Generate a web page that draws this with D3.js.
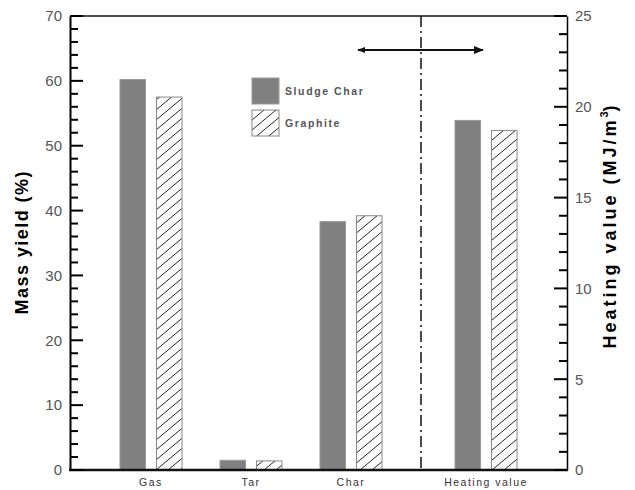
<!DOCTYPE html>
<html>
<head>
<meta charset="utf-8">
<script src="https://cdn.jsdelivr.net/npm/d3@7"></script>
<style>
  body { margin: 0; background: #fff; }
  svg { display: block; font-family: 'Liberation Sans', Arial, sans-serif; }
</style>
</head>
<body>
<div id="chart"></div>
<script>
const products = ['Gas', 'Tar', 'Char']
const heatingLabel = ['Heating value']
const seriesNames = ['Sludge Char', 'Graphite']
const sludgeYield = [60.2, 1.5, 38.3]
const graphiteYield = [57.5, 1.4, 39.2]
const heatingValue = [19.25, 18.7]
const leftTicks = [0, 10, 20, 30, 40, 50, 60, 70]
const rightTicks = [0, 5, 10, 15, 20, 25]

const width = 635
const height = 490
const plot = { left: 70, right: 567, top: 16, bottom: 470 }
const splitX = 421

const svg = d3.select('#chart').append('svg')
  .attr('width', width)
  .attr('height', height)

// hatch pattern for graphite
const defs = svg.append('defs')
defs.append('pattern')
  .attr('id', 'hatch')
  .attr('patternUnits', 'userSpaceOnUse')
  .attr('width', 12)
  .attr('height', 10)
  .append('path')
  .attr('d', 'M0,10 L12,0 M-3,2.5 L3,-2.5 M9,12.5 L15,7.5')
  .attr('stroke', '#222')
  .attr('stroke-width', 1)

defs.append('marker')
  .attr('id', 'arrowR')
  .attr('viewBox', '0 0 10 10')
  .attr('refX', 9).attr('refY', 5)
  .attr('markerWidth', 5).attr('markerHeight', 5)
  .attr('orient', 'auto')
  .append('path').attr('d', 'M0,1 L10,5 L0,9 Z').attr('fill', '#111')
defs.append('marker')
  .attr('id', 'arrowL')
  .attr('viewBox', '0 0 10 10')
  .attr('refX', 1).attr('refY', 5)
  .attr('markerWidth', 4).attr('markerHeight', 4)
  .attr('orient', 'auto')
  .append('path').attr('d', 'M10,1 L0,5 L10,9 Z').attr('fill', '#111')

// scales
const yLeft = d3.scaleLinear().domain([0, 70]).range([plot.bottom, plot.top])
const yRight = d3.scaleLinear().domain([0, 25]).range([plot.bottom, plot.top])
const xLeft = d3.scaleBand().domain(products).range([101, 401])
const xRight = d3.scaleBand().domain(heatingLabel).range([436, 536])
const xSeries = d3.scaleBand().domain(seriesNames).range([0, 62]).paddingInner(0.3)

const barStyle = (sel, name) => sel
  .attr('fill', name === 'Graphite' ? 'url(#hatch)' : '#808080')
  .attr('stroke', name === 'Graphite' ? '#888' : '#9a9a9a')
  .attr('stroke-width', 1)

// mass yield bars
const yieldData = [sludgeYield, graphiteYield]
seriesNames.forEach((name, si) => {
  const bars = svg.append('g').selectAll('rect')
    .data(products.map((p, i) => ({ p, v: yieldData[si][i] })))
    .join('rect')
    .attr('x', d => xLeft(d.p) + xLeft.bandwidth() / 2 - 31 + xSeries(name))
    .attr('y', d => yLeft(d.v))
    .attr('width', xSeries.bandwidth())
    .attr('height', d => yLeft(0) - yLeft(d.v))
  barStyle(bars, name)
})

// heating value bars
const hvBars = svg.append('g').selectAll('rect')
  .data(seriesNames.map((name, i) => ({ name, v: heatingValue[i] })))
  .join('rect')
  .attr('x', d => xRight(heatingLabel[0]) + xRight.bandwidth() / 2 - 31 + xSeries(d.name))
  .attr('y', d => yRight(d.v))
  .attr('width', xSeries.bandwidth())
  .attr('height', d => yRight(0) - yRight(d.v))
hvBars.each(function (d) { barStyle(d3.select(this), d.name) })

// frame
svg.append('line')
  .attr('x1', plot.left).attr('x2', plot.right)
  .attr('y1', plot.top).attr('y2', plot.top)
  .attr('stroke', '#111').attr('stroke-width', 1.5)

// left axis (line + labels)
const leftAxis = svg.append('g')
  .attr('transform', `translate(${plot.left},0)`)
  .call(d3.axisLeft(yLeft).tickValues(leftTicks).tickSize(0).tickPadding(8))
leftAxis.select('.domain').attr('stroke-width', 2)
leftAxis.selectAll('text').attr('font-size', 15).attr('fill', '#555')

// right axis
const rightAxis = svg.append('g')
  .attr('transform', `translate(${plot.right},0)`)
  .call(d3.axisRight(yRight).tickValues(rightTicks).tickSize(0).tickPadding(8))
rightAxis.select('.domain').attr('stroke-width', 1.5)
rightAxis.selectAll('text').attr('font-size', 15).attr('fill', '#555')

// bottom axis line
svg.append('line')
  .attr('x1', plot.left - 1).attr('x2', plot.right + 1)
  .attr('y1', plot.bottom).attr('y2', plot.bottom)
  .attr('stroke', '#111').attr('stroke-width', 2.5)

// category labels
const catLabel = (sel) => sel
  .attr('text-anchor', 'middle')
  .attr('font-size', 10.5)
  .attr('letter-spacing', '1.5px')
  .attr('fill', '#333')
svg.append('g').selectAll('text')
  .data(products)
  .join('text')
  .attr('x', d => xLeft(d) + xLeft.bandwidth() / 2)
  .attr('y', 486)
  .text(d => d)
  .call(catLabel)
svg.append('text')
  .attr('x', xRight(heatingLabel[0]) + xRight.bandwidth() / 2)
  .attr('y', 486)
  .text(heatingLabel[0])
  .call(catLabel)

// divider and arrow
svg.append('line')
  .attr('x1', splitX).attr('x2', splitX)
  .attr('y1', plot.top).attr('y2', plot.bottom)
  .attr('stroke', '#111').attr('stroke-width', 1.5)
  .attr('stroke-dasharray', '11,4,2,4')
svg.append('line')
  .attr('x1', 358).attr('x2', 483)
  .attr('y1', 50).attr('y2', 50)
  .attr('stroke', '#111').attr('stroke-width', 2)
  .attr('marker-start', 'url(#arrowL)')
  .attr('marker-end', 'url(#arrowR)')

// legend
const legend = svg.append('g').attr('transform', 'translate(252,78)')
seriesNames.forEach((name, i) => {
  const g = legend.append('g').attr('transform', `translate(0,${i * 32})`)
  g.append('rect').attr('width', 27).attr('height', 26).call(s => barStyle(s, name))
  g.append('text')
    .attr('x', 33).attr('y', 17)
    .attr('font-size', 10.5)
    .attr('letter-spacing', '1.6px')
    .attr('font-weight', 'bold')
    .attr('fill', '#555')
    .text(name)
})

// axis titles
svg.append('text')
  .attr('transform', 'translate(28,243) rotate(-90)')
  .attr('text-anchor', 'middle')
  .attr('font-size', 18)
  .attr('font-weight', 'bold')
  .attr('textLength', 143)
  .attr('lengthAdjust', 'spacing')
  .text('Mass yield (%)')
const rt = svg.append('text')
  .attr('transform', 'translate(616,227) rotate(-90)')
  .attr('text-anchor', 'middle')
  .attr('font-size', 18)
  .attr('font-weight', 'bold')
rt.append('tspan').attr('textLength', 228).attr('lengthAdjust', 'spacing').text('Heating value (MJ/m')
rt.append('tspan').attr('font-size', 11).attr('dy', -8).text('3')
rt.append('tspan').attr('dy', 8).text(')')

// inward tick marks
const minorLeft = d3.range(0, 71, 2).filter(v => v % 10 !== 0)
const minorRight = d3.range(0, 26, 1).filter(v => v % 5 !== 0)
const tickLayer = svg.append('g').attr('class', 'ticks')
const drawTicks = (values, scale, x0, dir, len) => {
  tickLayer.append('g').selectAll('line')
    .data(values)
    .join('line')
    .attr('x1', x0).attr('x2', x0 + dir * len)
    .attr('y1', d => scale(d)).attr('y2', d => scale(d))
    .attr('stroke', '#000').attr('stroke-width', 2)
}
drawTicks(minorLeft, yLeft, plot.left, 1, 8)
drawTicks(leftTicks, yLeft, plot.left, 1, 13)
drawTicks(minorRight, yRight, plot.right, -1, 8)
drawTicks(rightTicks, yRight, plot.right, -1, 13)
</script>
</body>
</html>
